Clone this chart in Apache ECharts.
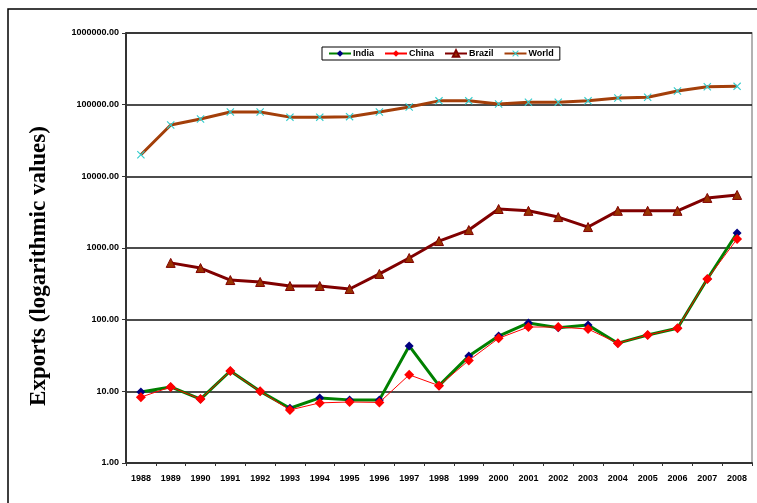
<!DOCTYPE html>
<html lang="en">
<head>
    <meta charset="UTF-8">
    <title>Exports (logarithmic values)</title>
    <script src="https://cdn.jsdelivr.net/npm/echarts@6.0.0/dist/echarts.min.js"></script>
    <style>
        html, body { margin: 0; padding: 0; background: #fff; }
        #chart { width: 757px; height: 503px; }
    </style>
</head>
<body>
    <div id="chart"></div>
    <script type="text/javascript">
    // years on the category axis
    var years = ['1988', '1989', '1990', '1991', '1992', '1993', '1994', '1995', '1996', '1997', '1998',
                 '1999', '2000', '2001', '2002', '2003', '2004', '2005', '2006', '2007', '2008'];

    // export values
    var india  = [9.8, 11.5, 7.8, 19.2, 10, 5.8, 8.1, 7.6, 7.6, 43, 12, 31, 59, 90, 77, 84, 47, 61, 76, 370, 1620];
    var china  = [8.3, 11.5, 7.8, 19.2, 10, 5.5, 6.9, 7.1, 7.0, 17, 12, 27, 55, 79, 79, 74, 47, 61, 76, 370, 1340];
    var brazil = [null, 620, 525, 357, 336, 295, 295, 268, 435, 725, 1250, 1780, 3500, 3300, 2700, 1960, 3300, 3300, 3300, 5000, 5500];
    var world  = [20000, 52000, 63000, 79000, 79000, 67000, 67000, 68000, 79000, 93000, 113000, 113000, 102000,
                  108000, 108000, 113000, 124000, 127000, 155000, 178000, 180000];

    var seriesNames = ['India', 'China', 'Brazil', 'World'];

    // x shaped marker for the World series
    var crossMark = 'path://M0,1L1,0L5,4L9,0L10,1L6,5L10,9L9,10L5,6L1,10L0,9L4,5Z';

    var chart = echarts.init(document.getElementById('chart'));
    var option = {
        animation: false,
        textStyle: { fontFamily: 'Arial' },
        graphic: [
            {
                type: 'rect',
                shape: { x: 8, y: 9, width: 760, height: 510 },
                style: { fill: 'none', stroke: '#000', lineWidth: 1.5 },
                silent: true
            },
            {
                type: 'text',
                x: 39, y: 266,
                rotation: Math.PI / 2,
                style: {
                    text: 'Exports (logarithmic values)',
                    font: 'bold 23px "Liberation Serif"',
                    fill: '#000',
                    align: 'center',
                    verticalAlign: 'middle'
                }
            }
        ],
        legend: {
            data: seriesNames,
            top: 47,
            left: 322,
            width: 246,
            padding: [2, 6, 2, 6],
            itemGap: 10,
            itemWidth: 22,
            itemHeight: 8,
            borderColor: '#000',
            borderWidth: 1,
            backgroundColor: '#fff',
            textStyle: { fontSize: 9, fontWeight: 'bold', color: '#000', padding: [0, 0, 0, -3] }
        },
        grid: { left: 126, right: 5, top: 33, bottom: 40, show: true, borderColor: '#999', borderWidth: 1.5 },
        xAxis: {
            type: 'category',
            data: years,
            boundaryGap: true,
            axisLine: { lineStyle: { color: '#333', width: 2 } },
            axisTick: { show: true, length: 3, lineStyle: { color: '#333' } },
            axisLabel: { fontSize: 9, fontWeight: 'bold', color: '#000', margin: 11 }
        },
        yAxis: {
            type: 'log',
            logBase: 10,
            min: 1,
            max: 1000000,
            axisLine: { show: true, lineStyle: { color: '#333', width: 2 } },
            axisTick: { show: true, length: 4, lineStyle: { color: '#333' } },
            splitLine: { lineStyle: { color: '#111', width: 1.5 } },
            minorTick: { show: false },
            axisLabel: {
                fontSize: 9, fontWeight: 'bold', color: '#000', margin: 7,
                formatter: function (v) { return Number(v).toFixed(2); }
            }
        },
        series: [
            {
                name: 'India', type: 'line', data: india,
                symbol: 'diamond', symbolSize: 9,
                lineStyle: { color: '#008000', width: 3 },
                itemStyle: { color: '#000080' },
                z: 3
            },
            {
                name: 'China', type: 'line', data: china,
                symbol: 'diamond', symbolSize: 10,
                lineStyle: { color: '#ff0000', width: 1 },
                itemStyle: { color: '#ff0000' },
                z: 4
            },
            {
                name: 'Brazil', type: 'line', data: brazil,
                symbol: 'triangle', symbolSize: 9,
                lineStyle: { color: '#800000', width: 3 },
                itemStyle: { color: '#993300', borderColor: '#800000', borderWidth: 1 },
                z: 2
            },
            {
                name: 'World', type: 'line', data: world,
                symbol: crossMark, symbolSize: 8,
                lineStyle: { color: '#a33f0a', width: 3 },
                itemStyle: { color: '#33cccc' },
                z: 2
            }
        ]
    };
    chart.setOption(option);
    </script>
</body>
</html>
